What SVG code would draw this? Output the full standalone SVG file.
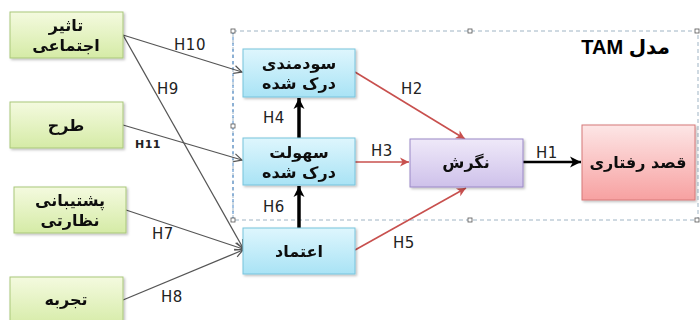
<svg xmlns="http://www.w3.org/2000/svg" width="700" height="320" viewBox="0 0 700 320">
<defs>
<linearGradient id="gG" x1="0" y1="0" x2="0" y2="1"><stop offset="0" stop-color="#f4fadf"/><stop offset="1" stop-color="#d5eba6"/></linearGradient>
<linearGradient id="gB" x1="0" y1="0" x2="0" y2="1"><stop offset="0" stop-color="#def6fd"/><stop offset="1" stop-color="#a9e3f5"/></linearGradient>
<linearGradient id="gP" x1="0" y1="0" x2="0" y2="1"><stop offset="0" stop-color="#efe9f9"/><stop offset="1" stop-color="#cec1ea"/></linearGradient>
<linearGradient id="gR" x1="0" y1="0" x2="0" y2="1"><stop offset="0" stop-color="#fde6e6"/><stop offset="1" stop-color="#f7a1a1"/></linearGradient>
<filter id="sh" x="-10%" y="-10%" width="130%" height="130%"><feDropShadow dx="1.5" dy="1.5" stdDeviation="1.2" flood-color="#000" flood-opacity="0.25"/></filter>
<marker id="mGray" markerWidth="10" markerHeight="10" refX="9" refY="5" orient="auto" markerUnits="userSpaceOnUse"><path d="M1,1 L9,5 L1,9" fill="none" stroke="#555" stroke-width="1.2"/></marker>
<marker id="mRed" markerWidth="12" markerHeight="12" refX="10" refY="6" orient="auto" markerUnits="userSpaceOnUse"><path d="M1,1.5 L10,6 L1,10.5 L3.5,6 Z" fill="#c8504e"/></marker>
<marker id="mBlk" markerWidth="14" markerHeight="14" refX="12" refY="7" orient="auto" markerUnits="userSpaceOnUse"><path d="M1,1.5 L12,7 L1,12.5 L4,7 Z" fill="#000"/></marker>
</defs>
<style>
.fa{font-family:"DejaVu Sans",sans-serif;font-weight:bold;font-size:16px;fill:#111;text-anchor:middle}
.lb{font-family:"DejaVu Sans",sans-serif;font-size:15px;fill:#222;text-anchor:middle;letter-spacing:0.5px}
.gray{stroke:#555;stroke-width:1.3;fill:none;marker-end:url(#mGray)}
.red{stroke:#c8504e;stroke-width:1.6;fill:none;marker-end:url(#mRed)}
.blk{stroke:#000;stroke-width:3.5;fill:none;marker-end:url(#mBlk)}
.g{fill:url(#gG);stroke:#a9c77a;stroke-width:1}
.b{fill:url(#gB);stroke:#77c3dc;stroke-width:1}
.p{fill:url(#gP);stroke:#9a88c6;stroke-width:1}
.r{fill:url(#gR);stroke:#d67878;stroke-width:1}
.hd{fill:#fff;stroke:#555;stroke-width:0.8}
</style>
<g id="frame">
<rect x="233" y="31" width="465" height="189" fill="none" stroke="#9fb4c4" stroke-width="1" stroke-dasharray="4,3"/>
<line x1="233" y1="31" x2="233" y2="220" stroke="#4a88c8" stroke-width="1" stroke-dasharray="3,3"/>
<rect class="hd" x="231" y="29" width="4" height="4"/>
<rect class="hd" x="231" y="124" width="4" height="4"/>
<rect class="hd" x="231" y="218" width="4" height="4"/>
<rect class="hd" x="468" y="29" width="4" height="4"/>
<rect class="hd" x="468" y="218" width="4" height="4"/>
<rect class="hd" x="695" y="29" width="4" height="4"/>
<rect class="hd" x="695" y="218" width="4" height="4"/>
<text x="670" y="54" direction="rtl" font-family="Liberation Sans, DejaVu Sans, sans-serif" font-weight="bold" font-size="20" fill="#000">مدل TAM</text>
</g>
<g id="connectors">
<line class="gray" x1="123" y1="35" x2="242" y2="72"/>
<line class="gray" x1="123" y1="35" x2="243" y2="248"/>
<line class="gray" x1="123" y1="125" x2="242" y2="160"/>
<line class="gray" x1="126" y1="210" x2="243" y2="249"/>
<line class="gray" x1="123" y1="300" x2="243" y2="250"/>
<line class="blk" x1="299" y1="138" x2="299" y2="98"/>
<line class="blk" x1="299" y1="228" x2="299" y2="186"/>
<line class="red" x1="355" y1="72" x2="465" y2="139"/>
<line class="red" x1="355" y1="162" x2="409" y2="162"/>
<line class="red" x1="355" y1="250" x2="466" y2="188"/>
<line class="blk" x1="523" y1="162" x2="581" y2="162" style="stroke-width:2.5"/>
<text class="lb" x="190" y="50">H10</text>
<text class="lb" x="168" y="94">H9</text>
<text class="lb" x="148" y="148" style="font-size:11px;font-weight:bold">H11</text>
<text class="lb" x="163" y="239">H7</text>
<text class="lb" x="172" y="302">H8</text>
<text class="lb" x="274" y="123">H4</text>
<text class="lb" x="274" y="212">H6</text>
<text class="lb" x="412" y="94">H2</text>
<text class="lb" x="382" y="156">H3</text>
<text class="lb" x="404" y="248">H5</text>
<text class="lb" x="547" y="158">H1</text>
</g>
<g id="n-social" filter="url(#sh)"><rect class="g" x="10" y="12" width="113" height="46"/><text class="fa" x="66" y="31">تاثیر</text><text class="fa" x="66" y="51">اجتماعی</text></g>
<g id="n-design" filter="url(#sh)"><rect class="g" x="10" y="102" width="113" height="46"/><text class="fa" x="66" y="131">طرح</text></g>
<g id="n-support" filter="url(#sh)"><rect class="g" x="14" y="187" width="112" height="46"/><text class="fa" x="70" y="206">پشتیبانی</text><text class="fa" x="70" y="226">نظارتی</text></g>
<g id="n-exp" filter="url(#sh)"><rect class="g" x="10" y="277" width="113" height="50"/><text class="fa" x="66" y="305">تجربه</text></g>
<g id="n-pu" filter="url(#sh)"><rect class="b" x="243" y="49" width="112" height="48"/><text class="fa" x="299" y="69">سودمندی</text><text class="fa" x="299" y="89">درک شده</text></g>
<g id="n-peou" filter="url(#sh)"><rect class="b" x="243" y="138" width="112" height="47"/><text class="fa" x="299" y="158">سهولت</text><text class="fa" x="299" y="178">درک شده</text></g>
<g id="n-trust" filter="url(#sh)"><rect class="b" x="243" y="228" width="112" height="46"/><text class="fa" x="299" y="257">اعتماد</text></g>
<g id="n-att" filter="url(#sh)"><rect class="p" x="410" y="139" width="113" height="48"/><text class="fa" x="466" y="168">نگرش</text></g>
<g id="n-bi" filter="url(#sh)"><rect class="r" x="582" y="125" width="113" height="75"/><text class="fa" x="638" y="168">قصد رفتاری</text></g>
</svg>
